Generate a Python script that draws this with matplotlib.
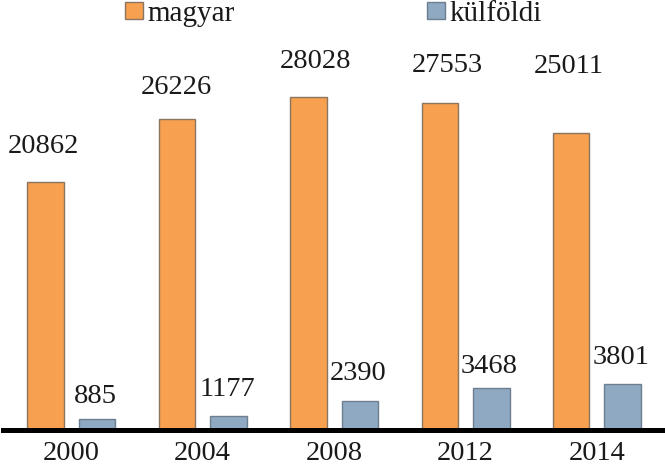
import numpy as np
import matplotlib.pyplot as plt

# data
years = ["2000", "2004", "2008", "2012", "2014"]
magyar = [20862, 26226, 28028, 27553, 25011]
kulfoldi = [885, 1177, 2390, 3468, 3801]

# label offsets in pixels (dx, dy) above each bar, as placed in the original
magyar_offsets = [(-2, 36), (-1, 31), (7, 36), (8, 37), (-2, 67)]
kulfoldi_offsets = [(-2, 23), (-1, 26), (-2, 28), (-2, 22), (-2, 27)]

plt.rcParams["font.family"] = ["Liberation Serif", "DejaVu Serif"]

fig = plt.figure(figsize=(6.65, 4.71), dpi=100)
ax = fig.add_axes([3 / 665, 41.5 / 471, 662 / 665, 429.5 / 471])

x = np.arange(len(years))
w = 0.278
off = 0.196
orange = "#F7A04F"
blue = "#8EA9C1"
txt = "#1a1a1a"
fs = 20.5

ax.bar(x - off, magyar, w, color=orange, edgecolor="#8a7560", linewidth=1, label="magyar")
ax.bar(x + off, kulfoldi, w, color=blue, edgecolor="#6d7f8f", linewidth=1, label="külföldi")

for xi, v, (dx, dy) in zip(x - off, magyar, magyar_offsets):
    ax.annotate(str(v), (xi, v), xytext=(dx, dy), textcoords="offset pixels",
                ha="center", va="center", fontsize=fs, color=txt)
for xi, v, (dx, dy) in zip(x + off, kulfoldi, kulfoldi_offsets):
    ax.annotate(str(v), (xi, v), xytext=(dx, dy), textcoords="offset pixels",
                ha="center", va="center", fontsize=fs, color=txt)

ax.set_xlim(-0.52, 4.518)
ax.set_ylim(0, 36245)
ax.set_xticks(x)
ax.set_xticklabels(years, fontsize=fs, color=txt)
ax.tick_params(axis="x", length=0, pad=8)
ax.set_yticks([])
for s in ["top", "left", "right"]:
    ax.spines[s].set_visible(False)
ax.spines["bottom"].set_linewidth(3.6)
ax.spines["bottom"].set_color("black")

leg = ax.legend(loc="center left", bbox_to_anchor=(125 / 665, 1 - 14 / 471),
                bbox_transform=fig.transFigure, ncol=2, frameon=False,
                fontsize=21, borderpad=0, handlelength=0.62, handleheight=0.52,
                handletextpad=0.15, columnspacing=6.6, borderaxespad=0,
                labelcolor=txt)

fig.savefig("out.png", dpi=100)
